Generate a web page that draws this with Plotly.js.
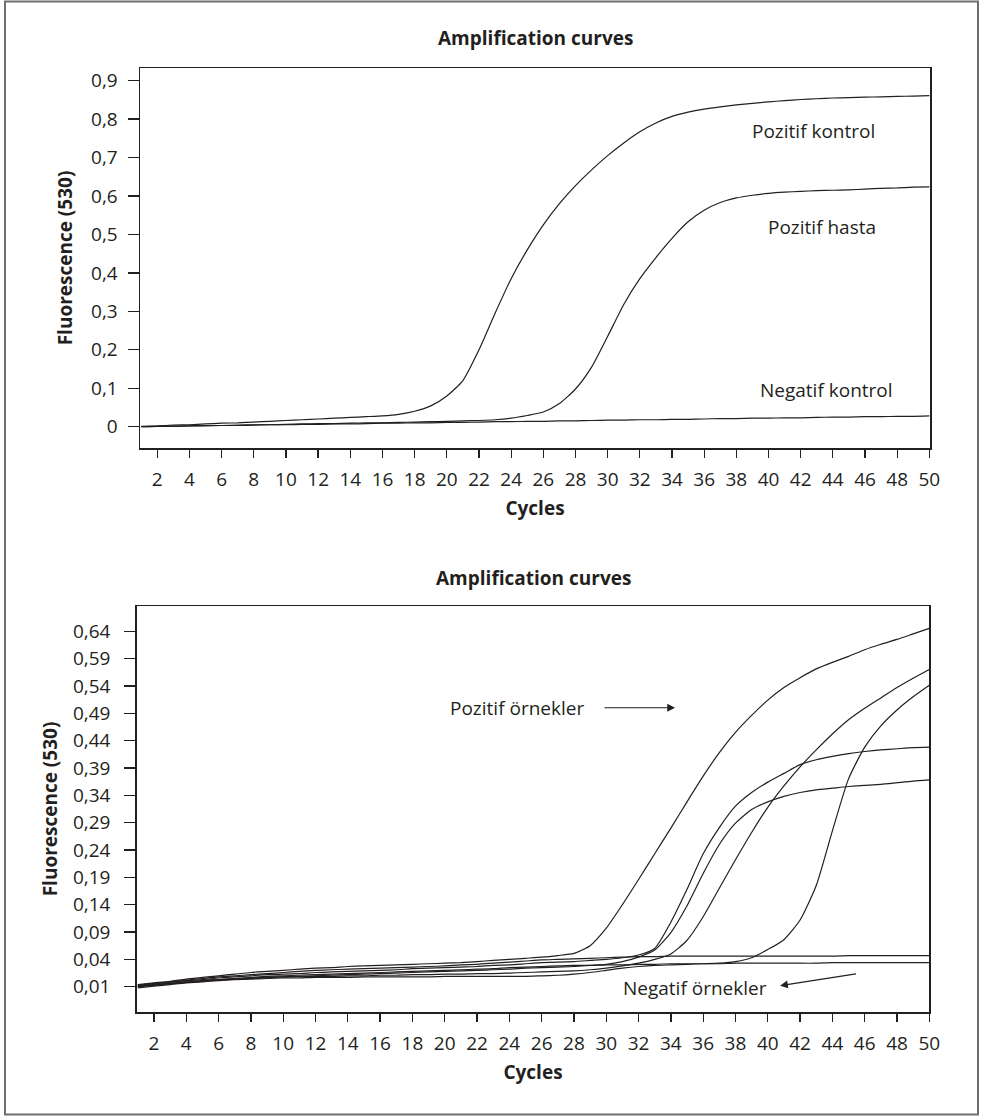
<!DOCTYPE html>
<html>
<head>
<meta charset="utf-8">
<script src="https://cdn.plot.ly/plotly-3.0.1.min.js"></script>
<style>html,body{margin:0;padding:0;background:#fff;}#chart{width:985px;height:1116px;}</style>
</head>
<body>
<div id="chart"></div>
<script>
// ---- data ----
const cycles = [1,2,3,4,5,6,7,8,9,10,11,12,13,14,15,16,17,18,19,20,21,22,23,24,25,26,27,28,29,30,31,32,33,34,35,36,37,38,39,40,41,42,43,44,45,46,47,48,49,50];

// top chart
const pozitifKontrol = [0.001,0.002,0.004,0.005,0.007,0.009,0.010,0.012,0.014,0.016,0.018,0.020,0.022,0.024,0.026,0.028,0.032,0.040,0.054,0.080,0.120,0.200,0.295,0.385,0.460,0.525,0.580,0.627,0.668,0.705,0.738,0.767,0.790,0.807,0.818,0.826,0.832,0.837,0.841,0.845,0.848,0.851,0.853,0.855,0.856,0.857,0.858,0.859,0.860,0.861];
const pozitifHasta = [0.000,0.001,0.001,0.002,0.003,0.003,0.004,0.005,0.005,0.006,0.007,0.008,0.008,0.009,0.010,0.010,0.011,0.012,0.013,0.014,0.015,0.016,0.018,0.022,0.029,0.038,0.060,0.098,0.155,0.235,0.318,0.385,0.440,0.490,0.533,0.563,0.583,0.595,0.602,0.607,0.610,0.612,0.614,0.615,0.616,0.618,0.620,0.621,0.623,0.624];
const negatifKontrol = [0.000,0.001,0.001,0.002,0.002,0.003,0.003,0.004,0.005,0.005,0.006,0.006,0.007,0.007,0.008,0.009,0.009,0.010,0.010,0.011,0.011,0.012,0.013,0.013,0.014,0.014,0.015,0.015,0.016,0.017,0.017,0.018,0.018,0.019,0.019,0.020,0.021,0.021,0.022,0.022,0.023,0.023,0.024,0.025,0.025,0.026,0.026,0.027,0.027,0.028];

// bottom chart (values on the drawn axis scale; lowest tick labelled "0,01")
const pozitifOrnek1 = [-0.006,-0.003,0.000,0.004,0.007,0.010,0.013,0.016,0.018,0.020,0.022,0.024,0.025,0.027,0.028,0.029,0.030,0.031,0.032,0.033,0.034,0.036,0.038,0.040,0.042,0.044,0.047,0.051,0.065,0.097,0.140,0.186,0.233,0.280,0.328,0.375,0.418,0.455,0.486,0.514,0.537,0.555,0.571,0.583,0.594,0.606,0.616,0.625,0.635,0.645];
const pozitifOrnek2 = [-0.010,-0.007,-0.004,-0.001,0.001,0.003,0.005,0.006,0.007,0.008,0.008,0.009,0.009,0.010,0.010,0.011,0.011,0.012,0.012,0.013,0.013,0.014,0.014,0.015,0.016,0.017,0.018,0.019,0.021,0.024,0.028,0.033,0.040,0.050,0.075,0.118,0.170,0.222,0.272,0.318,0.357,0.392,0.423,0.452,0.478,0.499,0.518,0.537,0.554,0.570];
const pozitifOrnek3 = [-0.008,-0.005,-0.002,0.001,0.003,0.006,0.008,0.010,0.012,0.013,0.014,0.016,0.017,0.018,0.019,0.020,0.021,0.023,0.024,0.025,0.026,0.027,0.029,0.030,0.032,0.034,0.035,0.036,0.038,0.040,0.043,0.048,0.060,0.108,0.168,0.233,0.281,0.320,0.345,0.364,0.380,0.396,0.405,0.411,0.416,0.420,0.423,0.425,0.427,0.428];
const pozitifOrnek4 = [-0.010,-0.007,-0.005,-0.002,0.000,0.002,0.004,0.005,0.007,0.008,0.009,0.010,0.011,0.012,0.013,0.014,0.015,0.016,0.017,0.018,0.019,0.020,0.021,0.022,0.024,0.025,0.026,0.027,0.029,0.031,0.036,0.044,0.057,0.089,0.138,0.197,0.250,0.289,0.314,0.328,0.338,0.345,0.350,0.353,0.356,0.358,0.360,0.363,0.366,0.368];
const pozitifOrnek5 = [-0.012,-0.009,-0.006,-0.003,-0.001,0.001,0.003,0.004,0.005,0.006,0.006,0.007,0.007,0.007,0.008,0.008,0.008,0.008,0.008,0.009,0.009,0.009,0.009,0.009,0.009,0.010,0.011,0.013,0.016,0.020,0.024,0.027,0.029,0.030,0.031,0.032,0.033,0.036,0.043,0.058,0.076,0.112,0.175,0.275,0.370,0.428,0.467,0.496,0.520,0.541];
const negatifOrnek1 = [-0.007,-0.004,-0.001,0.002,0.005,0.008,0.010,0.012,0.014,0.016,0.018,0.020,0.021,0.022,0.023,0.024,0.025,0.026,0.027,0.028,0.030,0.031,0.033,0.035,0.037,0.039,0.040,0.041,0.042,0.043,0.044,0.045,0.045,0.046,0.046,0.046,0.046,0.046,0.046,0.046,0.046,0.046,0.046,0.046,0.047,0.047,0.047,0.047,0.047,0.047];
const negatifOrnek2 = [-0.009,-0.006,-0.004,-0.001,0.001,0.003,0.005,0.007,0.009,0.010,0.011,0.012,0.013,0.014,0.015,0.016,0.017,0.018,0.019,0.020,0.021,0.022,0.023,0.025,0.026,0.027,0.028,0.029,0.029,0.030,0.030,0.031,0.031,0.032,0.032,0.032,0.032,0.033,0.033,0.033,0.033,0.033,0.033,0.034,0.034,0.034,0.034,0.034,0.034,0.034];

// tick labels
const xTickVals = [2,4,6,8,10,12,14,16,18,20,22,24,26,28,30,32,34,36,38,40,42,44,46,48,50];
const xTickText = ["2","4","6","8","10","12","14","16","18","20","22","24","26","28","30","32","34","36","38","40","42","44","46","48","50"];
const yTopTickVals = [0,0.1,0.2,0.3,0.4,0.5,0.6,0.7,0.8,0.9];
const yTopTickText = ["0","0,1","0,2","0,3","0,4","0,5","0,6","0,7","0,8","0,9"];
const yBotTickVals = [-0.01,0.04,0.09,0.14,0.19,0.24,0.29,0.34,0.39,0.44,0.49,0.54,0.59,0.64];
const yBotTickText = ["0,01","0,04","0,09","0,14","0,19","0,24","0,29","0,34","0,39","0,44","0,49","0,54","0,59","0,64"];

// ---- drawing ----
const FONT = "'Open Sans', 'Noto Sans', sans-serif";
const INK = '#231f20';
const lineStyle = {color: INK, width: 1.2, shape: 'spline', smoothing: 0.6};

function tr(y, xa, ya, name) {
  return {x: cycles, y: y, xaxis: xa, yaxis: ya, type: 'scatter', mode: 'lines', line: lineStyle, name: name, hoverinfo: 'x+y+name'};
}

const data = [
  tr(negatifKontrol, 'x', 'y', 'Negatif kontrol'),
  tr(pozitifHasta, 'x', 'y', 'Pozitif hasta'),
  tr(pozitifKontrol, 'x', 'y', 'Pozitif kontrol'),
  tr(negatifOrnek1, 'x2', 'y2', 'Negatif örnek 1'),
  tr(negatifOrnek2, 'x2', 'y2', 'Negatif örnek 2'),
  tr(pozitifOrnek1, 'x2', 'y2', 'Pozitif örnek 1'),
  tr(pozitifOrnek2, 'x2', 'y2', 'Pozitif örnek 2'),
  tr(pozitifOrnek3, 'x2', 'y2', 'Pozitif örnek 3'),
  tr(pozitifOrnek4, 'x2', 'y2', 'Pozitif örnek 4'),
  tr(pozitifOrnek5, 'x2', 'y2', 'Pozitif örnek 5')
];

const tickFont = {family: FONT, size: 19, color: INK};
const titleFont = {family: FONT, size: 19, color: INK, weight: 700};

function xAxis(domain, range, anchor) {
  return {
    domain: domain, range: range, anchor: anchor,
    tickmode: 'array', tickvals: xTickVals, ticktext: xTickText,
    ticks: 'outside', ticklen: 8, tickwidth: 1.3, tickcolor: INK,
    showline: true, linecolor: INK, linewidth: 1.5, mirror: true,
    showgrid: false, zeroline: false, tickfont: tickFont, ticklabelstandoff: 6,
    title: {text: 'Cycles', font: titleFont, standoff: 10},
    automargin: false, fixedrange: true
  };
}
function yAxis(domain, range, anchor, vals, text, standoff, titleStandoff) {
  return {
    domain: domain, range: range, anchor: anchor,
    tickmode: 'array', tickvals: vals, ticktext: text,
    ticks: 'outside', ticklen: 11, tickwidth: 1.3, tickcolor: INK,
    showline: true, linecolor: INK, linewidth: 1.5, mirror: true,
    showgrid: false, zeroline: false, tickfont: tickFont, ticklabelstandoff: standoff,
    title: {text: 'Fluorescence (530)', font: titleFont, standoff: titleStandoff},
    automargin: false, fixedrange: true
  };
}

const layout = {
  width: 985, height: 1116,
  margin: {l: 0, r: 0, t: 0, b: 0},
  paper_bgcolor: '#ffffff', plot_bgcolor: '#ffffff',
  showlegend: false,
  separators: ',.',
  font: {family: FONT, color: INK},
  xaxis: xAxis([140/985, 930/985], [0.924, 50.04], 'y'),
  yaxis: yAxis([1 - 448/1116, 1 - 68/1116], [-0.0555, 0.933], 'x', yTopTickVals, yTopTickText, 6, 13),
  xaxis2: xAxis([136.7/985, 929.3/985], [0.93, 50.0], 'y2'),
  yaxis2: yAxis([1 - 1012/1116, 1 - 606/1116], [-0.0562, 0.686], 'x2', yBotTickVals, yBotTickText, 10, 10),
  shapes: [
    {type: 'rect', xref: 'paper', yref: 'paper', x0: 5/985, x1: 978/985, y0: 1.5/1116, y1: 1 - 1.5/1116,
     line: {color: '#6d6e70', width: 2}, fillcolor: 'rgba(0,0,0,0)', layer: 'below'}
  ],
  annotations: [
    {xref: 'paper', yref: 'paper', x: 535/985, y: 1 - 38/1116, text: 'Amplification curves', showarrow: false,
     font: titleFont, xanchor: 'center', yanchor: 'middle'},
    {xref: 'paper', yref: 'paper', x: 533/985, y: 1 - 578/1116, text: 'Amplification curves', showarrow: false,
     font: titleFont, xanchor: 'center', yanchor: 'middle'},
    {xref: 'x', yref: 'y', x: 42.78, y: 0.768, text: 'Pozitif kontrol', showarrow: false, font: tickFont, xanchor: 'center', yanchor: 'middle'},
    {xref: 'x', yref: 'y', x: 43.3, y: 0.519, text: 'Pozitif hasta', showarrow: false, font: tickFont, xanchor: 'center', yanchor: 'middle'},
    {xref: 'x', yref: 'y', x: 43.58, y: 0.095, text: 'Negatif kontrol', showarrow: false, font: tickFont, xanchor: 'center', yanchor: 'middle'},
    {xref: 'x2', yref: 'y2', x: 24.48, y: 0.50, text: 'Pozitif örnekler', showarrow: false, font: tickFont, xanchor: 'center', yanchor: 'middle'},
    {xref: 'x2', yref: 'y2', x: 34.26, y: 0.50, axref: 'x2', ayref: 'y2', ax: 29.8, ay: 0.50, text: '',
     showarrow: true, arrowhead: 2, arrowsize: 1.3, arrowwidth: 1.2, arrowcolor: INK, standoff: 0},
    {xref: 'x2', yref: 'y2', x: 35.5, y: -0.013, text: 'Negatif örnekler', showarrow: false, font: tickFont, xanchor: 'center', yanchor: 'middle'},
    {xref: 'x2', yref: 'y2', x: 40.76, y: -0.008, axref: 'x2', ayref: 'y2', ax: 45.55, ay: 0.014, text: '',
     showarrow: true, arrowhead: 2, arrowsize: 1.3, arrowwidth: 1.2, arrowcolor: INK, standoff: 0}
  ]
};

Plotly.newPlot('chart', data, layout, {displayModeBar: false, staticPlot: true});
</script>
</body>
</html>
